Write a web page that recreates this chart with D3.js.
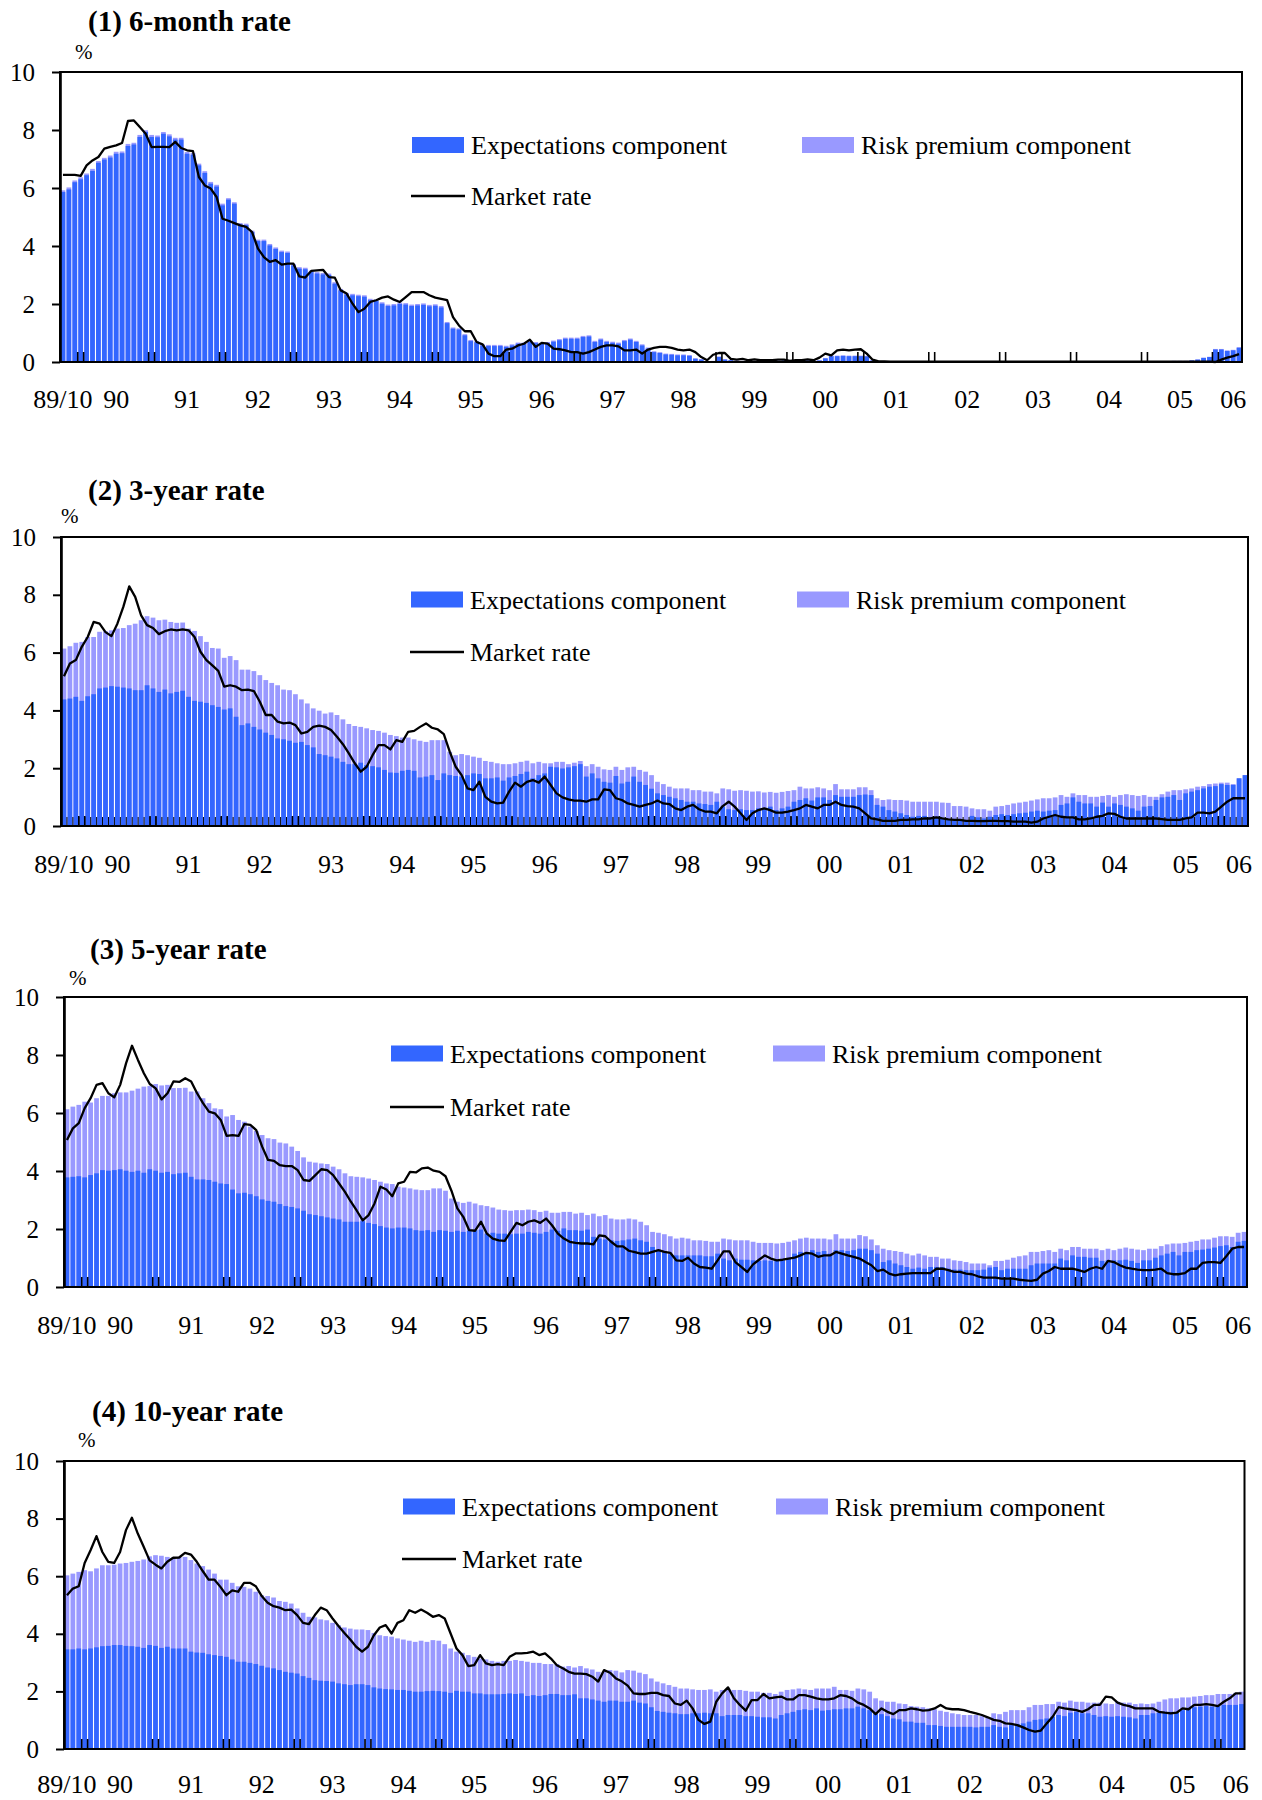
<!DOCTYPE html>
<html>
<head>
<meta charset="utf-8">
<script src="https://cdn.jsdelivr.net/npm/d3@7"></script>
<style>
  body { margin: 0; background: #fff; }
  svg { display: block; }
  text { font-family: "Liberation Serif", "Times New Roman", serif; fill: #000; }
</style>
</head>
<body>
<svg id="chart" width="1262" height="1800"></svg>
<script>
// Monthly decomposition of Japanese government bond yields, 1989/10 onward (%).
// "fitted" = expectations component + risk premium component (top of the stacked bar).

const exp6m = [
  5.86,5.95,6.2,6.3,6.44,6.59,6.87,6.98,7.05,7.18,
  7.2,7.45,7.5,7.76,7.93,7.76,7.75,7.87,7.78,7.67,
  7.67,7.18,7.15,6.78,6.52,6.15,6.05,5.4,5.6,5.46,
  4.74,4.72,4.48,4.17,4.17,4.02,3.9,3.79,3.76,3.33,
  3.22,3.2,3.1,3.05,3.02,3.0,2.7,2.47,2.33,2.3,
  2.27,2.25,2.13,2.1,2.01,1.93,1.95,2.0,1.98,1.93,
  1.95,1.97,1.92,1.94,1.88,1.34,1.15,1.12,0.92,0.72,
  0.68,0.57,0.55,0.55,0.55,0.52,0.57,0.63,0.63,0.69,
  0.65,0.62,0.65,0.7,0.75,0.8,0.8,0.8,0.86,0.88,
  0.69,0.77,0.69,0.66,0.63,0.72,0.77,0.69,0.57,0.46,
  0.34,0.31,0.26,0.25,0.23,0.23,0.21,0.11,0.08,0.02,
  0.03,0.17,0.08,0.06,0.04,0.03,0.04,0.03,0.03,0.04,
  0.05,0.04,0.05,0.06,0.05,0.04,0.05,0.04,0.05,0.12,
  0.2,0.2,0.21,0.2,0.2,0.2,0.19,0.05,0.01,0,
  0.01,0.01,0,0,0,0,0,0,0,0,
  0,0,0,0,0,0,0,0,0,0,
  0,0,0,0,0,0,0,0.01,0.01,0,
  0,0,0,0,0,0,0,0,0,0,
  0,0,0.01,0.01,0.02,0.02,0.02,0.02,0.03,0.03,
  0.03,0.05,0.08,0.14,0.17,0.43,0.43,0.38,0.4,0.49
];
const fit6m = [
  5.92,6.02,6.26,6.37,6.5,6.66,6.93,7.04,7.12,7.25,
  7.26,7.52,7.56,7.83,7.99,7.83,7.81,7.93,7.85,7.73,
  7.73,7.24,7.21,6.84,6.58,6.21,6.11,5.46,5.65,5.51,
  4.79,4.77,4.53,4.22,4.22,4.07,3.95,3.84,3.81,3.38,
  3.27,3.25,3.15,3.1,3.07,3.05,2.75,2.52,2.38,2.35,
  2.32,2.3,2.18,2.15,2.06,1.98,2.0,2.05,2.03,1.98,
  2.0,2.02,1.97,1.99,1.93,1.38,1.19,1.16,0.96,0.76,
  0.72,0.61,0.59,0.59,0.59,0.56,0.61,0.67,0.67,0.73,
  0.69,0.66,0.69,0.74,0.79,0.84,0.84,0.84,0.9,0.92,
  0.73,0.81,0.73,0.7,0.67,0.76,0.81,0.73,0.61,0.5,
  0.37,0.34,0.29,0.28,0.26,0.26,0.24,0.13,0.1,0.03,
  0.04,0.19,0.1,0.07,0.05,0.04,0.05,0.04,0.04,0.05,
  0.06,0.05,0.06,0.07,0.06,0.05,0.06,0.05,0.06,0.14,
  0.22,0.22,0.23,0.22,0.22,0.22,0.21,0.06,0.02,0.01,
  0.01,0.01,0.01,0.01,0.01,0.01,0.01,0.01,0.01,0.01,
  0.01,0.01,0.01,0.01,0.01,0.01,0.01,0.01,0.01,0.01,
  0.01,0.01,0.01,0.01,0.01,0.01,0.01,0.02,0.02,0.01,
  0.01,0.01,0.01,0.01,0.01,0.01,0.01,0.01,0.01,0.01,
  0.01,0.01,0.02,0.02,0.03,0.03,0.03,0.03,0.04,0.04,
  0.04,0.06,0.09,0.15,0.18,0.45,0.45,0.4,0.42,0.51
];
const mkt6m = [
  6.45,6.45,6.45,6.42,6.78,6.95,7.07,7.36,7.42,7.47,
  7.55,8.31,8.33,8.1,7.87,7.41,7.42,7.42,7.41,7.59,
  7.38,7.3,7.27,6.38,6.09,5.98,5.69,4.94,4.87,4.79,
  4.71,4.66,4.48,3.91,3.62,3.45,3.51,3.36,3.39,3.39,
  2.95,2.91,3.14,3.16,3.18,2.93,2.91,2.47,2.36,2.01,
  1.72,1.84,2.07,2.13,2.22,2.26,2.15,2.07,2.24,2.41,
  2.41,2.41,2.3,2.22,2.18,2.13,1.55,1.26,1.06,1.06,
  0.69,0.61,0.29,0.2,0.2,0.43,0.46,0.57,0.63,0.77,
  0.52,0.66,0.63,0.46,0.44,0.4,0.34,0.34,0.29,0.34,
  0.43,0.52,0.57,0.57,0.54,0.4,0.4,0.43,0.29,0.43,
  0.49,0.52,0.52,0.49,0.43,0.4,0.43,0.34,0.17,0.06,
  0.25,0.31,0.31,0.11,0.08,0.11,0.06,0.09,0.06,0.06,
  0.06,0.08,0.08,0.04,0.06,0.06,0.09,0.06,0.15,0.29,
  0.23,0.4,0.43,0.4,0.43,0.44,0.29,0.08,0.02,0.02,
  0.01,0.01,0.01,0.01,0.01,0.01,0.01,0.01,0.01,0.01,
  0.01,0.01,0.01,0.01,0.01,0.01,0.01,0.01,0.01,0.01,
  0.01,0.01,0.01,0.01,0.01,0.01,0.01,0.01,0.01,0.01,
  0.01,0.01,0.01,0.01,0.01,0.01,0.01,0.01,0.01,0.01,
  0.01,0.01,0.01,0.01,0.01,0.01,0.01,0.01,0.01,0.01,
  0.01,0.01,0.01,0.01,0.01,0,0.08,0.15,0.2,0.27
];

const exp3y = [
  4.38,4.41,4.47,4.33,4.49,4.56,4.76,4.79,4.84,4.82,
  4.79,4.76,4.7,4.7,4.87,4.76,4.64,4.72,4.59,4.64,
  4.68,4.47,4.33,4.3,4.26,4.18,4.12,4.03,4.07,3.78,
  3.49,3.55,3.43,3.34,3.23,3.15,3.03,3.0,2.95,2.88,
  2.91,2.8,2.72,2.49,2.45,2.4,2.34,2.22,2.14,2.14,
  2.19,2.11,2.07,2.03,1.94,1.85,1.84,1.91,1.94,1.91,
  1.68,1.71,1.76,1.59,1.82,1.76,1.73,1.71,1.76,1.82,
  1.8,1.65,1.65,1.68,1.57,1.68,1.73,1.8,1.88,1.65,
  1.76,1.82,2.05,2.03,1.99,2.03,2.07,2.14,1.71,1.82,
  1.65,1.53,1.5,1.73,1.47,1.53,1.71,1.53,1.42,1.29,
  1.13,1.07,1.01,0.96,0.9,0.84,0.84,0.78,0.76,0.73,
  0.84,0.67,0.58,0.55,0.58,0.55,0.55,0.61,0.61,0.67,
  0.55,0.61,0.67,0.84,0.9,0.96,0.88,0.99,0.99,0.9,
  1.07,1.01,1.01,1.01,1.07,1.09,1.07,0.73,0.67,0.55,
  0.5,0.44,0.38,0.32,0.35,0.35,0.3,0.32,0.26,0.21,
  0.18,0.21,0.18,0.35,0.3,0.26,0.32,0.38,0.41,0.38,
  0.41,0.44,0.46,0.5,0.53,0.5,0.53,0.55,0.73,0.78,
  0.99,0.84,0.78,0.78,0.67,0.81,0.67,0.78,0.73,0.67,
  0.61,0.53,0.67,0.69,0.9,0.99,1.01,1.07,0.9,1.13,
  1.19,1.24,1.3,1.36,1.38,1.45,1.42,1.42,1.65,1.76
];
const fit3y = [
  6.14,6.22,6.34,6.37,6.54,6.54,6.72,6.74,6.77,6.83,
  6.85,6.95,7.0,7.12,7.26,7.21,7.12,7.14,7.06,7.03,
  7.04,6.83,6.75,6.57,6.37,6.16,6.14,5.82,5.88,5.74,
  5.41,5.41,5.36,5.22,5.05,4.95,4.87,4.72,4.7,4.56,
  4.38,4.24,4.07,3.99,3.89,3.93,3.84,3.69,3.53,3.46,
  3.43,3.38,3.32,3.29,3.23,3.15,3.11,3.06,3.06,3.0,
  2.95,2.91,2.97,2.97,2.97,2.57,2.45,2.49,2.45,2.4,
  2.36,2.25,2.22,2.17,2.14,2.14,2.17,2.22,2.26,2.17,
  2.22,2.17,2.17,2.22,2.22,2.14,2.19,2.25,2.07,2.14,
  2.05,1.96,1.94,2.05,1.94,2.03,2.05,1.94,1.88,1.76,
  1.53,1.45,1.36,1.3,1.3,1.3,1.24,1.24,1.19,1.19,
  1.13,1.3,1.27,1.22,1.24,1.22,1.19,1.2,1.16,1.18,
  1.15,1.18,1.21,1.24,1.36,1.3,1.3,1.34,1.3,1.24,
  1.45,1.27,1.27,1.27,1.34,1.34,1.24,0.96,0.9,0.92,
  0.9,0.9,0.88,0.84,0.84,0.84,0.84,0.84,0.81,0.8,
  0.69,0.69,0.67,0.61,0.58,0.58,0.53,0.67,0.69,0.73,
  0.78,0.81,0.84,0.88,0.92,0.96,0.96,0.99,1.07,1.01,
  1.13,1.07,1.07,1.01,1.01,1.04,1.07,1.01,1.07,1.1,
  1.07,1.04,1.07,1.01,1.01,1.1,1.19,1.24,1.24,1.27,
  1.3,1.36,1.38,1.45,1.47,1.5,1.5,1.45,1.65,1.76
];
const mkt3y = [
  5.18,5.62,5.74,6.2,6.54,7.06,7.0,6.71,6.57,7.0,
  7.58,8.29,7.93,7.29,6.95,6.85,6.64,6.74,6.8,6.77,
  6.8,6.77,6.54,6.03,5.74,5.56,5.37,4.82,4.87,4.82,
  4.7,4.72,4.67,4.3,3.84,3.84,3.61,3.55,3.58,3.49,
  3.2,3.26,3.43,3.47,3.43,3.32,3.09,2.83,2.51,2.17,
  1.88,2.05,2.45,2.8,2.8,2.65,2.97,2.91,3.26,3.29,
  3.43,3.55,3.4,3.34,3.18,2.57,2.05,1.76,1.3,1.24,
  1.53,1.01,0.84,0.78,0.81,1.19,1.5,1.36,1.53,1.59,
  1.5,1.71,1.42,1.13,0.99,0.92,0.88,0.88,0.84,0.92,
  0.92,1.27,1.24,0.96,0.9,0.78,0.73,0.67,0.73,0.78,
  0.88,0.78,0.76,0.61,0.55,0.67,0.73,0.58,0.5,0.5,
  0.44,0.69,0.84,0.67,0.44,0.21,0.44,0.55,0.61,0.55,
  0.46,0.46,0.5,0.55,0.61,0.73,0.67,0.61,0.73,0.73,
  0.84,0.73,0.69,0.67,0.61,0.44,0.26,0.23,0.18,0.18,
  0.18,0.21,0.21,0.23,0.23,0.26,0.26,0.3,0.26,0.23,
  0.21,0.21,0.18,0.18,0.17,0.17,0.18,0.18,0.17,0.17,
  0.15,0.15,0.15,0.12,0.15,0.26,0.32,0.38,0.32,0.3,
  0.3,0.23,0.23,0.26,0.32,0.35,0.44,0.42,0.32,0.26,
  0.26,0.26,0.26,0.26,0.26,0.24,0.21,0.21,0.21,0.26,
  0.3,0.46,0.46,0.44,0.5,0.67,0.84,0.96,0.96,0.96
];

const exp5y = [
  3.78,3.8,3.82,3.78,3.86,3.92,4.03,4.01,4.03,4.06,
  4.01,3.97,4.01,3.94,4.06,4.01,3.94,3.97,3.89,3.92,
  3.94,3.8,3.71,3.71,3.69,3.63,3.57,3.55,3.36,3.23,
  3.25,3.2,3.13,3.02,2.97,2.94,2.86,2.79,2.76,2.71,
  2.63,2.51,2.48,2.44,2.4,2.36,2.33,2.25,2.25,2.25,
  2.27,2.21,2.17,2.1,2.05,2.02,2.05,2.05,2.02,1.96,
  1.94,1.96,1.9,1.96,1.94,1.9,1.94,1.9,1.94,1.96,
  1.98,1.84,1.87,1.84,1.84,1.82,1.84,1.84,1.9,1.87,
  1.84,1.9,1.98,1.94,2.02,1.96,1.96,1.94,1.98,1.73,
  1.67,1.64,1.61,1.59,1.61,1.64,1.67,1.61,1.56,1.38,
  1.27,1.21,1.13,1.09,1.09,1.09,1.09,1.09,1.06,1.06,
  1.15,0.98,0.92,0.98,0.94,0.94,0.92,0.9,0.92,0.9,
  0.9,0.92,0.98,1.15,1.21,1.18,1.27,1.21,1.24,1.15,
  1.27,1.27,1.24,1.27,1.32,1.32,1.27,1.15,0.86,0.92,
  0.81,0.75,0.69,0.63,0.67,0.63,0.69,0.69,0.69,0.63,
  0.6,0.6,0.58,0.58,0.58,0.6,0.67,0.69,0.58,0.63,
  0.63,0.63,0.63,0.75,0.81,0.81,0.81,0.81,0.98,0.92,
  1.09,1.04,1.04,1.01,1.01,0.9,0.92,0.92,0.92,0.94,
  0.9,0.83,0.92,0.92,1.01,1.09,1.15,1.21,1.09,1.21,
  1.21,1.27,1.29,1.32,1.36,1.41,1.44,1.38,1.56,1.59
];
const fit5y = [
  6.13,6.22,6.28,6.39,6.36,6.51,6.59,6.59,6.68,6.71,
  6.71,6.77,6.84,6.91,6.93,7.0,6.95,6.97,6.86,6.86,
  6.87,6.74,6.74,6.51,6.34,6.16,6.13,5.88,5.93,5.76,
  5.7,5.53,5.38,5.24,5.13,5.1,4.98,4.95,4.84,4.69,
  4.47,4.32,4.29,4.26,4.24,4.15,4.06,3.92,3.82,3.8,
  3.78,3.74,3.69,3.63,3.57,3.55,3.46,3.43,3.4,3.36,
  3.34,3.34,3.4,3.4,3.32,3.05,2.94,2.9,2.94,2.88,
  2.82,2.79,2.74,2.67,2.65,2.63,2.65,2.65,2.67,2.65,
  2.59,2.63,2.56,2.56,2.59,2.59,2.53,2.56,2.48,2.53,
  2.44,2.48,2.36,2.33,2.33,2.36,2.33,2.25,2.13,1.9,
  1.87,1.82,1.75,1.67,1.7,1.67,1.61,1.61,1.59,1.56,
  1.56,1.67,1.64,1.61,1.61,1.61,1.56,1.52,1.52,1.52,
  1.5,1.52,1.56,1.61,1.67,1.7,1.67,1.67,1.67,1.64,
  1.82,1.67,1.67,1.67,1.79,1.75,1.64,1.44,1.32,1.27,
  1.24,1.21,1.15,1.09,1.15,1.09,1.04,1.04,0.98,0.98,
  0.92,0.9,0.86,0.81,0.81,0.81,0.75,0.9,0.9,0.94,
  1.01,1.06,1.09,1.21,1.21,1.24,1.27,1.21,1.32,1.27,
  1.38,1.38,1.32,1.32,1.32,1.27,1.32,1.27,1.32,1.36,
  1.32,1.29,1.27,1.32,1.32,1.41,1.47,1.5,1.5,1.52,
  1.56,1.59,1.64,1.64,1.7,1.75,1.75,1.73,1.87,1.9
];
const mkt5y = [
  5.07,5.47,5.65,6.17,6.51,6.97,7.03,6.68,6.54,6.97,
  7.72,8.32,7.83,7.37,7.0,6.85,6.47,6.68,7.09,7.07,
  7.2,7.09,6.68,6.34,6.05,5.99,5.76,5.21,5.24,5.21,
  5.62,5.59,5.41,4.84,4.38,4.35,4.2,4.17,4.17,4.03,
  3.69,3.66,3.86,4.06,4.03,3.86,3.57,3.28,2.94,2.63,
  2.3,2.48,2.88,3.46,3.36,3.13,3.57,3.63,3.97,3.95,
  4.09,4.12,4.01,3.97,3.82,3.32,2.71,2.42,1.96,1.94,
  2.25,1.84,1.67,1.61,1.59,1.9,2.21,2.13,2.25,2.3,
  2.21,2.36,2.13,1.84,1.67,1.56,1.52,1.5,1.5,1.47,
  1.78,1.75,1.56,1.4,1.4,1.25,1.2,1.15,1.15,1.21,
  1.27,1.21,1.18,0.92,0.9,1.01,0.81,0.69,0.67,0.63,
  0.92,1.23,1.23,0.86,0.69,0.52,0.78,0.94,1.09,0.98,
  0.92,0.94,0.98,1.01,1.09,1.18,1.15,1.04,1.09,1.09,
  1.21,1.15,1.09,1.04,0.98,0.86,0.75,0.55,0.6,0.46,
  0.4,0.44,0.46,0.48,0.48,0.48,0.48,0.63,0.63,0.58,
  0.52,0.52,0.46,0.44,0.37,0.32,0.32,0.32,0.29,0.29,
  0.29,0.25,0.23,0.21,0.25,0.46,0.55,0.69,0.63,0.63,
  0.63,0.58,0.52,0.63,0.69,0.63,0.9,0.86,0.75,0.67,
  0.63,0.6,0.58,0.58,0.6,0.63,0.48,0.44,0.44,0.48,
  0.63,0.63,0.83,0.86,0.86,0.83,1.06,1.32,1.38,1.38
];

const exp10y = [
  3.46,3.46,3.49,3.46,3.49,3.53,3.57,3.58,3.61,3.61,
  3.58,3.57,3.55,3.51,3.61,3.58,3.51,3.55,3.49,3.49,
  3.49,3.38,3.35,3.34,3.29,3.26,3.23,3.2,3.11,3.03,
  3.03,2.99,2.95,2.89,2.83,2.8,2.74,2.68,2.65,2.62,
  2.53,2.47,2.39,2.37,2.36,2.34,2.28,2.25,2.22,2.25,
  2.25,2.22,2.14,2.1,2.08,2.07,2.05,2.05,2.02,1.99,
  1.99,2.01,2.02,2.01,1.99,1.95,2.02,1.99,1.99,1.93,
  1.93,1.9,1.9,1.9,1.91,1.93,1.91,1.93,1.84,1.87,
  1.84,1.87,1.91,1.91,1.87,1.87,1.9,1.76,1.76,1.72,
  1.68,1.64,1.68,1.68,1.64,1.64,1.68,1.61,1.58,1.45,
  1.32,1.29,1.26,1.24,1.21,1.21,1.24,1.24,1.26,1.24,
  1.24,1.14,1.18,1.18,1.18,1.14,1.14,1.12,1.1,1.1,
  1.06,1.18,1.24,1.29,1.35,1.38,1.35,1.41,1.33,1.35,
  1.38,1.38,1.41,1.41,1.47,1.41,1.35,1.24,1.21,1.14,
  1.06,1.03,0.95,0.95,0.91,0.91,0.83,0.83,0.8,0.77,
  0.77,0.77,0.77,0.77,0.75,0.77,0.77,0.83,0.77,0.75,
  0.83,0.87,0.89,0.95,1.01,1.03,1.06,1.12,1.18,1.14,
  1.26,1.29,1.24,1.24,1.18,1.12,1.14,1.12,1.14,1.12,
  1.1,1.06,1.18,1.18,1.24,1.26,1.29,1.29,1.26,1.35,
  1.41,1.45,1.47,1.49,1.47,1.49,1.53,1.53,1.53,1.56
];
const fit10y = [
  6.03,6.09,6.15,6.21,6.17,6.27,6.38,6.38,6.4,6.44,
  6.46,6.5,6.53,6.58,6.69,6.73,6.71,6.67,6.65,6.67,
  6.67,6.56,6.44,6.35,6.23,6.09,5.88,5.88,5.77,5.65,
  5.63,5.57,5.46,5.34,5.31,5.26,5.14,5.11,5.05,4.88,
  4.73,4.59,4.57,4.5,4.47,4.38,4.3,4.22,4.18,4.15,
  4.15,4.13,4.03,3.95,3.92,3.9,3.84,3.8,3.76,3.72,
  3.76,3.72,3.78,3.76,3.64,3.49,3.38,3.34,3.26,3.2,
  3.14,3.11,3.06,3.03,3.06,3.06,3.09,3.06,3.03,2.99,
  2.99,2.95,2.95,2.95,2.86,2.88,2.83,2.88,2.8,2.76,
  2.68,2.68,2.74,2.72,2.66,2.74,2.72,2.65,2.6,2.45,
  2.34,2.28,2.22,2.16,2.1,2.1,2.07,2.05,2.05,2.07,
  1.99,2.05,2.1,2.05,2.05,2.02,1.99,1.99,1.95,1.95,
  1.91,1.99,2.05,2.07,2.1,2.07,2.05,2.1,2.1,2.1,
  2.16,2.05,2.05,2.02,2.1,2.07,1.99,1.76,1.68,1.64,
  1.64,1.58,1.56,1.49,1.47,1.45,1.41,1.38,1.33,1.29,
  1.24,1.21,1.18,1.18,1.18,1.14,1.1,1.24,1.21,1.29,
  1.35,1.35,1.35,1.45,1.53,1.53,1.56,1.56,1.64,1.61,
  1.68,1.64,1.64,1.61,1.61,1.61,1.58,1.56,1.64,1.61,
  1.61,1.56,1.58,1.56,1.58,1.64,1.72,1.76,1.76,1.79,
  1.79,1.82,1.84,1.87,1.87,1.91,1.91,1.91,1.95,1.99
];
const mkt10y = [
  5.34,5.57,5.65,6.46,6.9,7.39,6.84,6.5,6.46,6.84,
  7.6,8.03,7.48,7.02,6.55,6.4,6.27,6.5,6.64,6.65,
  6.81,6.75,6.5,6.18,5.88,5.88,5.63,5.34,5.51,5.46,
  5.77,5.77,5.65,5.31,5.08,4.96,4.91,4.82,4.84,4.65,
  4.38,4.34,4.65,4.91,4.82,4.53,4.27,4.03,3.8,3.55,
  3.38,3.55,3.95,4.22,4.3,4.01,4.38,4.47,4.82,4.73,
  4.84,4.73,4.59,4.65,4.53,4.01,3.49,3.26,2.88,2.91,
  3.26,2.97,2.91,2.95,2.91,3.2,3.32,3.32,3.34,3.38,
  3.26,3.32,3.14,2.91,2.8,2.68,2.62,2.62,2.6,2.51,
  2.34,2.74,2.65,2.45,2.35,2.2,1.93,1.91,1.91,1.95,
  1.95,1.87,1.84,1.58,1.53,1.68,1.41,1.01,0.87,0.95,
  1.64,1.93,2.14,1.76,1.53,1.33,1.7,1.7,1.91,1.76,
  1.79,1.82,1.72,1.72,1.87,1.87,1.82,1.76,1.72,1.72,
  1.76,1.87,1.84,1.76,1.61,1.53,1.41,1.21,1.41,1.29,
  1.21,1.35,1.35,1.41,1.38,1.33,1.35,1.41,1.53,1.41,
  1.38,1.38,1.35,1.29,1.24,1.18,1.1,1.01,0.98,0.89,
  0.87,0.83,0.75,0.66,0.6,0.64,0.89,1.12,1.45,1.41,
  1.38,1.35,1.29,1.38,1.53,1.53,1.82,1.79,1.61,1.53,
  1.49,1.41,1.41,1.41,1.41,1.29,1.26,1.24,1.26,1.41,
  1.38,1.53,1.53,1.56,1.53,1.49,1.64,1.76,1.93,1.93
];

const yTicks = [0, 2, 4, 6, 8, 10];
const yearLabels = ["89/10","90","91","92","93","94","95","96","97","98","99","00","01","02","03","04","05","06"];
const seriesNames = ["Expectations component", "Risk premium component", "Market rate"];

const COLOR_EXP = "#3366ff";
const COLOR_RP = "#9999ff";

// Month categories, starting 1989/10
const N = exp6m.length;
const months = d3.range(N).map(i => {
  const m = 9 + i;
  return `${1989 + Math.floor(m / 12)}/${String(m % 12 + 1).padStart(2, "0")}`;
});

const panels = [
  { title: "(1) 6-month rate", exp: exp6m, fit: fit6m, mkt: mkt6m,
    box: { l: 60, r: 1242, t: 72, b: 362 }, titleX: 88, titleY: 31, pctX: 75, pctY: 59,
    leg: { x: 412, y: 145, rx: 802, my: 196 }, labelDy: 37, monthTicks: false },
  { title: "(2) 3-year rate", exp: exp3y, fit: fit3y, mkt: mkt3y,
    box: { l: 61, r: 1248, t: 537, b: 826 }, titleX: 88, titleY: 500, pctX: 61, pctY: 523,
    leg: { x: 411, y: 599.5, rx: 797, my: 652 }, labelDy: 38, monthTicks: true },
  { title: "(3) 5-year rate", exp: exp5y, fit: fit5y, mkt: mkt5y,
    box: { l: 64, r: 1247, t: 997, b: 1287 }, titleX: 90, titleY: 959, pctX: 69, pctY: 985,
    leg: { x: 391, y: 1053.5, rx: 773, my: 1107 }, labelDy: 38, monthTicks: false },
  { title: "(4) 10-year rate", exp: exp10y, fit: fit10y, mkt: mkt10y,
    box: { l: 64, r: 1244.5, t: 1461, b: 1749 }, titleX: 92, titleY: 1421, pctX: 78, pctY: 1447,
    leg: { x: 403, y: 1506.5, rx: 776, my: 1559 }, labelDy: 35, monthTicks: false }
];

const svg = d3.select("#chart");

function drawPanel(p) {
  const g = svg.append("g");
  const { l, r, t, b } = p.box;

  const x = d3.scaleBand().domain(months).range([l, r]).paddingInner(0.2).paddingOuter(0.1);
  const y = d3.scaleLinear().domain([0, 10]).range([b, t]);
  const bw = x.bandwidth();
  const gap = x.step() - bw;

  // Stacked bars: full height (expectations + risk premium) in light, expectations in blue
  g.append("g").selectAll("rect").data(months).join("rect")
    .attr("x", d => x(d)).attr("width", bw)
    .attr("y", (d, i) => y(p.fit[i]))
    .attr("height", (d, i) => y(0) - y(p.fit[i]))
    .attr("fill", COLOR_RP);
  g.append("g").selectAll("rect").data(months).join("rect")
    .attr("x", d => x(d)).attr("width", bw)
    .attr("y", (d, i) => y(p.exp[i]))
    .attr("height", (d, i) => y(0) - y(p.exp[i]))
    .attr("fill", COLOR_EXP);

  // Category tick marks on the baseline
  if (p.monthTicks) {
    g.append("g").selectAll("line").data(months.slice(1)).join("line")
      .attr("x1", d => x(d) - gap / 2).attr("x2", d => x(d) - gap / 2)
      .attr("y1", b).attr("y2", b - 9)
      .attr("stroke", "#000").attr("stroke-width", 1);
  }
  const jans = months.filter(m => m.endsWith("/01"));
  const yt = g.append("g");
  jans.forEach(m => {
    [x(m) - gap / 2, x(m) + bw + gap / 2].forEach(px => {
      yt.append("line").attr("x1", px).attr("x2", px).attr("y1", b).attr("y2", b - 10)
        .attr("stroke", "#000").attr("stroke-width", 1.6);
    });
  });

  // Market rate
  const line = d3.line().x((d, i) => x(months[i]) + bw / 2).y(d => y(d));
  g.append("path").datum(p.mkt).attr("d", line)
    .attr("fill", "none").attr("stroke", "#000").attr("stroke-width", 2.3)
    .attr("stroke-linejoin", "round");

  // Frame
  g.append("rect").attr("x", l).attr("y", t).attr("width", r - l).attr("height", b - t)
    .attr("fill", "none").attr("stroke", "#000").attr("stroke-width", 2);

  // Y axis
  const ya = g.append("g").attr("transform", `translate(${l},0)`)
    .call(d3.axisLeft(y).tickValues(yTicks).tickSize(8).tickSizeOuter(0).tickPadding(17).tickFormat(d3.format("d")));
  ya.select(".domain").attr("stroke-width", 2.6);
  ya.selectAll(".tick line").attr("stroke-width", 2);
  ya.selectAll("text").style("font-size", "25px").style("font-family", '"Liberation Serif", serif').attr("fill", "#000");

  // X labels: first month, then each year centred on its July (last year placed near the end)
  const xl = g.append("g");
  yearLabels.forEach((lab, k) => {
    let cx = x(months[0]) + bw / 2;
    if (k > 0) {
      const idx = months.indexOf(`${1989 + k}/07`);
      cx = x(months[idx >= 0 ? idx : N - 2]) + bw / 2;
    }
    xl.append("text").attr("x", cx).attr("y", b + p.labelDy)
      .attr("dy", "0.35em").attr("text-anchor", "middle")
      .style("font-size", "26px").text(lab);
  });

  // Title and unit
  g.append("text").attr("x", p.titleX).attr("y", p.titleY)
    .style("font-size", "29px").style("font-weight", "bold").text(p.title);
  g.append("text").attr("x", p.pctX).attr("y", p.pctY).style("font-size", "21px").text("%");

  // Legend
  const lg = g.append("g").style("font-size", "26px");
  lg.append("rect").attr("x", p.leg.x).attr("y", p.leg.y - 8).attr("width", 52).attr("height", 16).attr("fill", COLOR_EXP);
  lg.append("text").attr("x", p.leg.x + 59).attr("y", p.leg.y).attr("dy", "0.35em").text(seriesNames[0]);
  lg.append("rect").attr("x", p.leg.rx).attr("y", p.leg.y - 8).attr("width", 52).attr("height", 16).attr("fill", COLOR_RP);
  lg.append("text").attr("x", p.leg.rx + 59).attr("y", p.leg.y).attr("dy", "0.35em").text(seriesNames[1]);
  lg.append("line").attr("x1", p.leg.x - 1).attr("x2", p.leg.x + 53).attr("y1", p.leg.my).attr("y2", p.leg.my)
    .attr("stroke", "#000").attr("stroke-width", 2.5);
  lg.append("text").attr("x", p.leg.x + 59).attr("y", p.leg.my).attr("dy", "0.35em").text(seriesNames[2]);
}

panels.forEach(drawPanel);
</script>
</body>
</html>
